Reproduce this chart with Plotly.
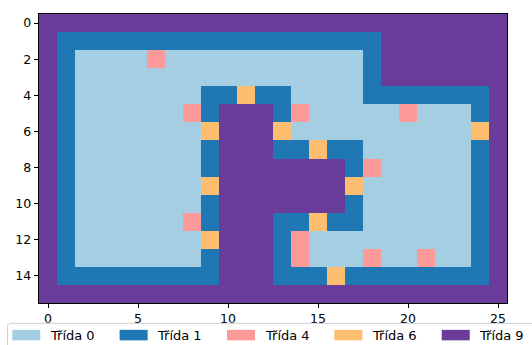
import plotly.graph_objects as go

# Class ids per cell (16 rows x 26 columns)
grid = [
    [9, 9, 9, 9, 9, 9, 9, 9, 9, 9, 9, 9, 9, 9, 9, 9, 9, 9, 9, 9, 9, 9, 9, 9, 9, 9],
    [9, 1, 1, 1, 1, 1, 1, 1, 1, 1, 1, 1, 1, 1, 1, 1, 1, 1, 1, 9, 9, 9, 9, 9, 9, 9],
    [9, 1, 0, 0, 0, 0, 4, 0, 0, 0, 0, 0, 0, 0, 0, 0, 0, 0, 1, 9, 9, 9, 9, 9, 9, 9],
    [9, 1, 0, 0, 0, 0, 0, 0, 0, 0, 0, 0, 0, 0, 0, 0, 0, 0, 1, 9, 9, 9, 9, 9, 9, 9],
    [9, 1, 0, 0, 0, 0, 0, 0, 0, 1, 1, 6, 1, 1, 0, 0, 0, 0, 1, 1, 1, 1, 1, 1, 1, 9],
    [9, 1, 0, 0, 0, 0, 0, 0, 4, 1, 9, 9, 9, 1, 4, 0, 0, 0, 0, 0, 4, 0, 0, 0, 1, 9],
    [9, 1, 0, 0, 0, 0, 0, 0, 0, 6, 9, 9, 9, 6, 0, 0, 0, 0, 0, 0, 0, 0, 0, 0, 6, 9],
    [9, 1, 0, 0, 0, 0, 0, 0, 0, 1, 9, 9, 9, 1, 1, 6, 1, 1, 0, 0, 0, 0, 0, 0, 1, 9],
    [9, 1, 0, 0, 0, 0, 0, 0, 0, 1, 9, 9, 9, 9, 9, 9, 9, 1, 4, 0, 0, 0, 0, 0, 1, 9],
    [9, 1, 0, 0, 0, 0, 0, 0, 0, 6, 9, 9, 9, 9, 9, 9, 9, 6, 0, 0, 0, 0, 0, 0, 1, 9],
    [9, 1, 0, 0, 0, 0, 0, 0, 0, 1, 9, 9, 9, 9, 9, 9, 9, 1, 0, 0, 0, 0, 0, 0, 1, 9],
    [9, 1, 0, 0, 0, 0, 0, 0, 4, 1, 9, 9, 9, 1, 1, 6, 1, 1, 0, 0, 0, 0, 0, 0, 1, 9],
    [9, 1, 0, 0, 0, 0, 0, 0, 0, 6, 9, 9, 9, 1, 4, 0, 0, 0, 0, 0, 0, 0, 0, 0, 1, 9],
    [9, 1, 0, 0, 0, 0, 0, 0, 0, 1, 9, 9, 9, 1, 4, 0, 0, 0, 4, 0, 0, 4, 0, 0, 1, 9],
    [9, 1, 1, 1, 1, 1, 1, 1, 1, 1, 9, 9, 9, 1, 1, 1, 6, 1, 1, 1, 1, 1, 1, 1, 1, 9],
    [9, 9, 9, 9, 9, 9, 9, 9, 9, 9, 9, 9, 9, 9, 9, 9, 9, 9, 9, 9, 9, 9, 9, 9, 9, 9],
]

classes = [0, 1, 4, 6, 9]
class_names = ["Třída 0", "Třída 1", "Třída 4", "Třída 6", "Třída 9"]
class_colors = ["#a6cee3", "#1f78b4", "#fb9a99", "#fdbf6f", "#6a3d9a"]

x_ticks = [0, 5, 10, 15, 20, 25]
y_ticks = [0, 2, 4, 6, 8, 10, 12, 14]

W, H = 532, 345
L, R, T, B = 39.4, 506.7, 14.0, 302.7  # plot area in pixels

n = len(classes)
idx = [[classes.index(v) for v in row] for row in grid]

# stepped colorscale: one flat band per class index
scale = []
for i, c in enumerate(class_colors):
    scale.append([i / n, c])
    scale.append([(i + 1) / n, c])

fig = go.Figure(go.Heatmap(
    z=idx,
    colorscale=scale,
    zmin=-0.5, zmax=n - 0.5,
    showscale=False,
    hoverinfo="skip",
    xgap=0, ygap=0,
))

font = dict(family="DejaVu Sans", size=12.5, color="black")
legend_font = dict(family="DejaVu Sans", size=13, color="black")

fig.update_layout(
    width=W, height=H,
    margin=dict(l=L, r=W - R, t=T, b=H - B, pad=0),
    paper_bgcolor="white",
    plot_bgcolor="white",
    font=font,
    showlegend=False,
    xaxis=dict(
        range=[-0.5, len(grid[0]) - 0.5],
        tickvals=x_ticks, ticktext=[str(v) for v in x_ticks],
        ticks="outside", ticklen=4.4, tickwidth=1, tickcolor="black",
        showline=True, linecolor="black", linewidth=1, mirror=True,
        showgrid=False, zeroline=False, tickfont=font,
    ),
    yaxis=dict(
        range=[len(grid) - 0.5, -0.5],
        tickvals=y_ticks, ticktext=[str(v) for v in y_ticks],
        ticks="outside", ticklen=4.4, tickwidth=1, tickcolor="black",
        showline=True, linecolor="black", linewidth=1, mirror=True,
        showgrid=False, zeroline=False, tickfont=font,
    ),
)


def px(xp):
    return (xp - L) / (R - L)


def py(yp):
    return (B - yp) / (B - T)


# legend box below the axes
x0, x1, y0, y1 = 8.0, 545.0, 323.0, 352.0
r = 3.0
rx, ry = r / (R - L), r / (B - T)
path = (
    f"M {px(x0)+rx},{py(y0)} L {px(x1)-rx},{py(y0)} "
    f"Q {px(x1)},{py(y0)} {px(x1)},{py(y0)-ry} L {px(x1)},{py(y1)+ry} "
    f"Q {px(x1)},{py(y1)} {px(x1)-rx},{py(y1)} L {px(x0)+rx},{py(y1)} "
    f"Q {px(x0)},{py(y1)} {px(x0)},{py(y1)+ry} L {px(x0)},{py(y0)-ry} "
    f"Q {px(x0)},{py(y0)} {px(x0)+rx},{py(y0)} Z"
)
shapes = [dict(type="path", path=path, xref="paper", yref="paper",
               fillcolor="rgba(255,255,255,0.8)", line=dict(color="#d0d0d0", width=1))]
annotations = []
step = 107.2
for i, (name, col) in enumerate(zip(class_names, class_colors)):
    sx = 12.7 + i * step
    shapes.append(dict(type="rect", xref="paper", yref="paper",
                       x0=px(sx), x1=px(sx + 28), y0=py(340), y1=py(329.5),
                       fillcolor=col, line=dict(width=0)))
    annotations.append(dict(text=name, xref="paper", yref="paper",
                            x=px(sx + 35.5), y=py(335), xanchor="left", yanchor="middle",
                            showarrow=False, font=legend_font))

fig.update_layout(shapes=shapes, annotations=annotations)

fig.write_html("out.html")
